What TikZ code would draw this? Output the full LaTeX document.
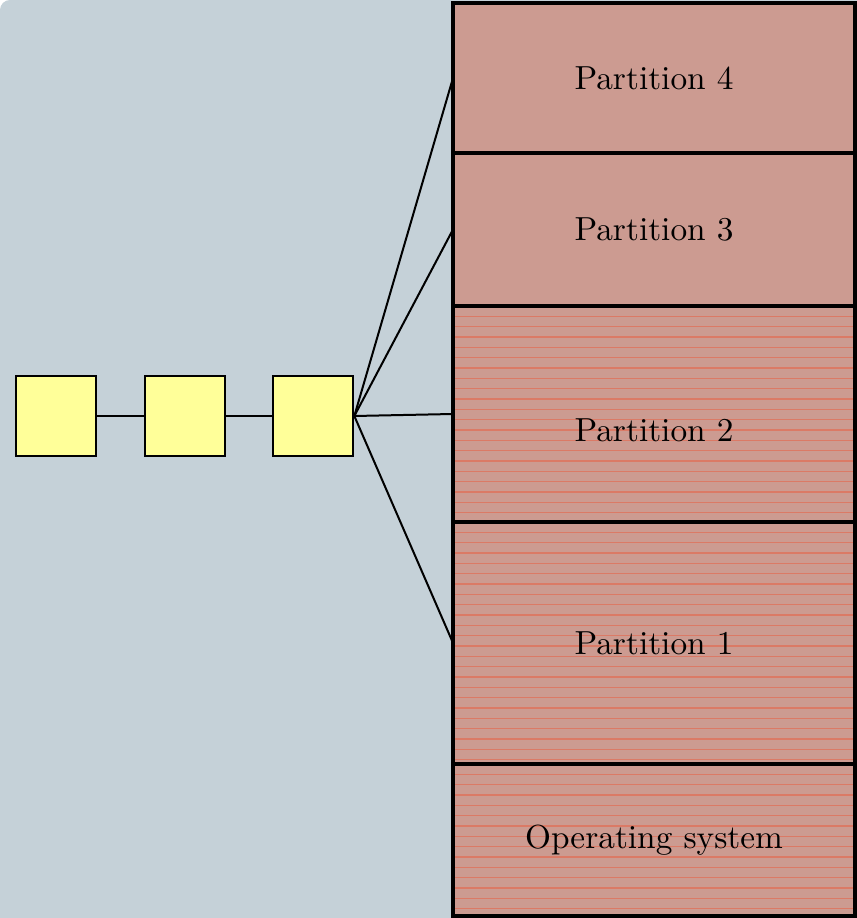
\documentclass[tikz,border=0pt]{standalone}
\usetikzlibrary{positioning}
\definecolor{bgcol}{HTML}{C5D1D8}
\definecolor{partcol}{HTML}{CC9B91}
\definecolor{stripecol}{HTML}{DB7A66}
\definecolor{slotcol}{HTML}{FFFF99}
\begin{document}
\begin{tikzpicture}[x=0.3pt,y=-0.3pt,
    part/.style={draw,line width=1pt,fill=partcol,minimum width=120.6pt,inner sep=0pt,outer sep=0pt},
    striped/.style={path picture={\foreach \k in {1,...,26} \draw[stripecol,line width=0.4pt] ([yshift=-\k*3.1pt]path picture bounding box.north west) -- ++(130pt,0);}},
    slot/.style={draw,line width=0.6pt,fill=slotcol,minimum size=24pt,inner sep=0pt},
    link/.style={line width=0.6pt}]
    \useasboundingbox (0,0) rectangle (856,918);
    \fill[bgcol,rounded corners=3pt] (0,0) rectangle (1000,1000);
    \node[slot] (q1) at (56,416) {};
    \node[slot,right=14pt of q1] (q2) {};
    \node[slot,right=14pt of q2] (q3) {};
    \node[part,minimum height=45pt] (p4) at (654,78) {Partition 4};
    \node[part,minimum height=45.9pt,below=0pt of p4] (p3) {Partition 3};
    \node[part,striped,minimum height=64.8pt,text height=16.5pt,below=0pt of p3] (p2) {Partition 2};
    \node[part,striped,minimum height=72.6pt,below=0pt of p2] (p1) {Partition 1};
    \node[part,striped,minimum height=45.6pt,below=0pt of p1] (os) {Operating system};
    \draw[link] (q1) -- (q2) -- (q3);
    \foreach \p in {p4,p3,p2,p1}
        \draw[link] (q3.east) -- (\p.west);
\end{tikzpicture}
\end{document}
